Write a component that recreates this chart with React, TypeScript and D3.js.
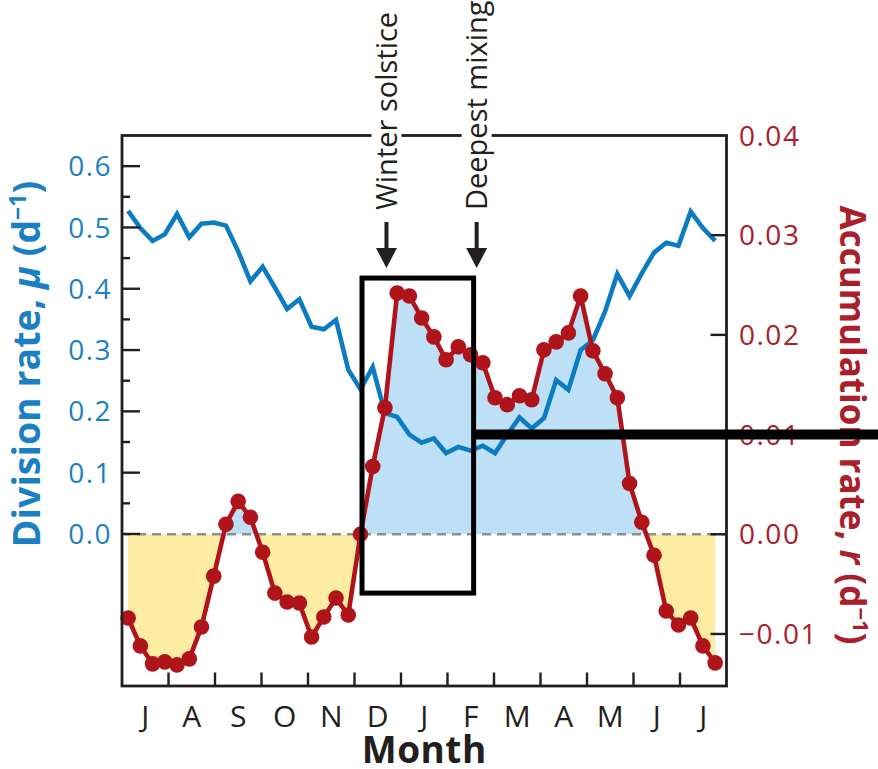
import React from "react";
import * as d3 from "d3";

// Month initials along the x axis (July through the following July)
const MONTHS = ["J", "A", "S", "O", "N", "D", "J", "F", "M", "A", "M", "J", "J"];

// Centre day (days after 1 July) of each 8-day composite
const DAYS = [
  4, 12, 20, 28, 36, 44, 52, 60, 68, 76, 84, 92, 100, 108, 116, 124, 132, 140, 148,
  156, 164, 172, 180, 188, 196, 204, 212, 220, 228, 236, 244, 252, 260, 268, 276,
  284, 292, 300, 308, 316, 324, 332, 340, 348, 356, 364, 372, 380, 388,
];

// Phytoplankton division rate, mu (d^-1)
const DIVISION_RATE = [
  0.527, 0.499, 0.478, 0.489, 0.522, 0.484, 0.506, 0.508, 0.503, 0.461, 0.412, 0.436,
  0.402, 0.367, 0.383, 0.338, 0.334, 0.349, 0.268, 0.236, 0.272, 0.197, 0.191, 0.162,
  0.149, 0.156, 0.132, 0.142, 0.136, 0.144, 0.132, 0.162, 0.19, 0.172, 0.189, 0.251,
  0.235, 0.3, 0.316, 0.363, 0.424, 0.388, 0.425, 0.459, 0.475, 0.47, 0.526, 0.499, 0.478,
];

// Biomass accumulation rate, r (d^-1)
const ACCUMULATION_RATE = [
  -0.0084, -0.0112, -0.013, -0.0128, -0.0131, -0.0125, -0.0093, -0.0042, 0.001, 0.0033,
  0.0017, -0.0018, -0.0059, -0.0068, -0.0069, -0.0103, -0.0083, -0.0064, -0.0081, 0.0,
  0.0068, 0.0127, 0.0242, 0.0239, 0.0217, 0.0198, 0.0175, 0.0188, 0.018, 0.0172, 0.0137,
  0.013, 0.0139, 0.0135, 0.0185, 0.0193, 0.0202, 0.0239, 0.0184, 0.0161, 0.0137, 0.0051,
  0.0012, -0.0021, -0.0077, -0.0091, -0.0084, -0.0112, -0.0129,
];

const LEFT_TICKS = [0, 0.1, 0.2, 0.3, 0.4, 0.5, 0.6];
const LEFT_MINOR_TICKS = [0.05, 0.15, 0.25, 0.35, 0.45, 0.55];
const RIGHT_TICKS = [-0.01, 0, 0.01, 0.02, 0.03, 0.04];

// Event markers (day after 1 July)
const EVENTS = [
  { label: "Winter solstice", day: 173 },
  { label: "Deepest mixing", day: 232 },
];

// Highlighted winter window: days and r range
const WINDOW_DAYS = [157, 230];
const WINDOW_R = [-0.0059, 0.0257];
const REFERENCE_R = 0.01;

const W = 878;
const H = 769;
const M = { left: 122, right: 726.5, top: 135.5, bottom: 686 };

const BLUE = "#0b7cc2";
const BLUE_TEXT = "#1b7fc4";
const BLUE_FILL = "#bde0f7";
const YELLOW_FILL = "#feeca2";
const RED = "#b0141b";
const RED_TEXT = "#a9202a";
const INK = "#231f20";
const FONT = "'Open Sans', 'Noto Sans', sans-serif";

const MONTH_DAYS = 365 / 12;

export default function App() {
  const x = d3.scaleLinear().domain([0, 13 * MONTH_DAYS]).range([M.left, M.right]);
  const yL = d3.scaleLinear().domain([-0.248, 0.65]).range([M.bottom, M.top]);
  const yR = d3.scaleLinear().domain([-0.01522, 0.04]).range([M.bottom, M.top]);

  const redPts = DAYS.map((d, i) => [d, ACCUMULATION_RATE[i]] as [number, number]);
  const bluePts = DAYS.map((d, i) => [d, DIVISION_RATE[i]] as [number, number]);

  const area = d3
    .area<[number, number]>()
    .x((d) => x(d[0]))
    .y0(() => yR(0))
    .y1((d) => yR(d[1]));
  const rLine = d3
    .line<[number, number]>()
    .x((d) => x(d[0]))
    .y((d) => yR(d[1]));
  const bLine = d3
    .line<[number, number]>()
    .x((d) => x(d[0]))
    .y((d) => yL(d[1]));

  const zeroY = yR(0);
  const boundaries = d3.range(1, 13).map((k) => k * MONTH_DAYS);

  const fmtL = d3.format(".1f");
  const fmtR = (v: number) => (v < 0 ? "\u2212" : "") + d3.format(".2f")(Math.abs(v));

  const boxX0 = x(WINDOW_DAYS[0]);
  const boxX1 = x(WINDOW_DAYS[1]);
  const boxY0 = yR(WINDOW_R[1]);
  const boxY1 = yR(WINDOW_R[0]);

  return (
    <svg
      width={W}
      height={H}
      viewBox={`0 0 ${W} ${H}`}
      style={{ position: "absolute", left: 0, top: 0, display: "block", background: "#fff" }}
      fontFamily={FONT}
    >
      <defs>
        <clipPath id="above-zero">
          <rect x={M.left} y={M.top} width={M.right - M.left} height={zeroY - M.top} />
        </clipPath>
        <clipPath id="below-zero">
          <rect x={M.left} y={zeroY} width={M.right - M.left} height={M.bottom - zeroY} />
        </clipPath>
      </defs>

      {/* shaded net growth / loss */}
      <path d={area(redPts) || ""} fill={BLUE_FILL} clipPath="url(#above-zero)" />
      <path d={area(redPts) || ""} fill={YELLOW_FILL} clipPath="url(#below-zero)" />

      {/* zero reference */}
      <line
        x1={M.left}
        x2={M.right}
        y1={zeroY}
        y2={zeroY}
        stroke="#8f8f8f"
        strokeWidth={2.6}
        strokeDasharray="9 6"
      />

      {/* division rate */}
      <path d={bLine(bluePts) || ""} fill="none" stroke={BLUE} strokeWidth={4.6} />

      {/* accumulation rate */}
      <path d={rLine(redPts) || ""} fill="none" stroke={RED} strokeWidth={4.6} />
      {redPts.map((d, i) => (
        <circle key={i} cx={x(d[0])} cy={yR(d[1])} r={7.8} fill={RED} />
      ))}

      {/* frame */}
      <rect
        x={M.left}
        y={M.top}
        width={M.right - M.left}
        height={M.bottom - M.top}
        fill="none"
        stroke={INK}
        strokeWidth={2.8}
      />

      {/* bottom ticks */}
      {boundaries.map((b, i) => (
        <line key={i} x1={x(b)} x2={x(b)} y1={M.bottom} y2={M.bottom - 13.5} stroke={INK} strokeWidth={2.4} />
      ))}
      {MONTHS.map((m, i) => (
        <text
          key={i}
          x={x((i + 0.5) * MONTH_DAYS)}
          y={727}
          textAnchor="middle"
          fontSize={30}
          fill={INK}
        >
          {m}
        </text>
      ))}
      <text
        x={(M.left + M.right) / 2}
        y={763}
        textAnchor="middle"
        fontSize={37}
        letterSpacing={0.5}
        fontWeight={700}
        fill={INK}
      >
        Month
      </text>

      {/* left axis */}
      {LEFT_TICKS.map((t) => (
        <g key={t}>
          <line x1={M.left} x2={M.left + 18} y1={yL(t)} y2={yL(t)} stroke={INK} strokeWidth={2.4} />
          <text
            x={112}
            y={yL(t)}
            dy="0.36em"
            textAnchor="end"
            fontSize={28}
            letterSpacing={1.5}
            fill={BLUE_TEXT}
          >
            {fmtL(t)}
          </text>
        </g>
      ))}
      {LEFT_MINOR_TICKS.map((t) => (
        <line key={t} x1={M.left} x2={M.left + 8} y1={yL(t)} y2={yL(t)} stroke={INK} strokeWidth={2.4} />
      ))}
      <text
        transform={`translate(40, 364) rotate(-90)`}
        textAnchor="middle"
        fontSize={37.5}
        fontWeight={700}
        fill={BLUE_TEXT}
      >
        Division rate, <tspan fontStyle="italic">μ</tspan> (d
        <tspan fontSize={23} dy={-14}>
          −1
        </tspan>
        <tspan dy={14}>)</tspan>
      </text>

      {/* right axis */}
      {RIGHT_TICKS.map((t) => (
        <g key={t}>
          {t < 0.035 && (
            <line x1={M.right - 16} x2={M.right} y1={yR(t)} y2={yR(t)} stroke={INK} strokeWidth={2.4} />
          )}
          <text
            x={739}
            y={yR(t)}
            dy="0.36em"
            textAnchor="start"
            fontSize={28}
            letterSpacing={1.5}
            fill={RED_TEXT}
          >
            {fmtR(t)}
          </text>
        </g>
      ))}
      <text
        transform={`translate(840, 425) rotate(90)`}
        textAnchor="middle"
        fontSize={35}
        fontWeight={700}
        fill={RED_TEXT}
      >
        Accumulation rate, <tspan fontStyle="italic">r</tspan> (d
        <tspan fontSize={22} dy={-13}>
          −1
        </tspan>
        <tspan dy={13}>)</tspan>
      </text>

      {/* event annotations */}
      {EVENTS.map((e) => {
        const ex = x(e.day);
        return (
          <g key={e.label}>
            <rect x={ex - 15} y={M.top - 4} width={30} height={8} fill="#fff" />
            <text
              transform={`translate(${ex}, 210) rotate(-90)`}
              dy="0.36em"
              textAnchor="start"
              fontSize={29}
              fill={INK}
            >
              {e.label}
            </text>
            <line x1={ex} x2={ex} y1={222} y2={252} stroke={INK} strokeWidth={4} />
            <path d={`M${ex - 10.5},${248} L${ex + 10.5},${248} L${ex},${268} Z`} fill={INK} />
          </g>
        );
      })}

      {/* winter window */}
      <rect
        x={boxX0}
        y={boxY0}
        width={boxX1 - boxX0}
        height={boxY1 - boxY0}
        fill="none"
        stroke="#000"
        strokeWidth={5}
      />
      <line x1={boxX1} x2={W} y1={yR(REFERENCE_R)} y2={yR(REFERENCE_R)} stroke="#000" strokeWidth={10} />
    </svg>
  );
}
